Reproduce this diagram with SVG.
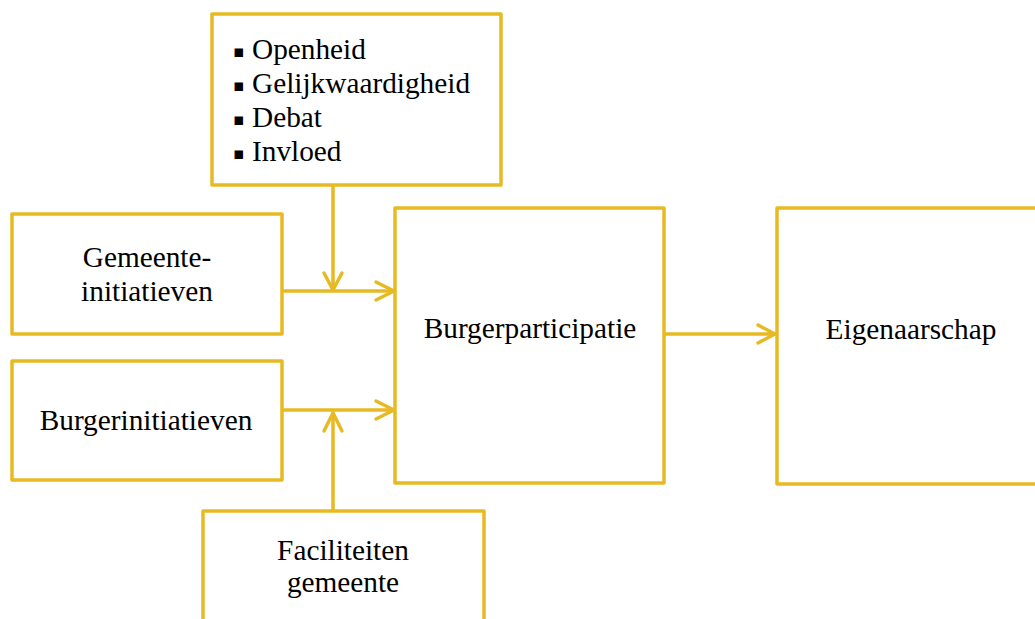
<svg xmlns="http://www.w3.org/2000/svg" width="1035" height="619" viewBox="0 0 1035 619">
<style>
.box{fill:#fff;stroke:#E7BA23;stroke-width:3.5;stroke-linejoin:round}
.ln{fill:none;stroke:#E7BA23;stroke-width:3.5;stroke-linecap:round;stroke-linejoin:round}
text{font-family:"Liberation Serif","Times New Roman",serif;font-size:29.3px;fill:#000}
.c{text-anchor:middle}
.b{font-family:"DejaVu Sans",sans-serif;font-size:17px}
</style>
<rect width="1035" height="619" fill="#fff"/>
<g id="connectors">
<path class="ln" d="M333,185 V290"/>
<path class="ln" d="M324,273 L333,290 L342,273"/>
<path class="ln" d="M282,291 H394"/>
<path class="ln" d="M376,282 L394,291 L376,300"/>
<path class="ln" d="M282,410 H394"/>
<path class="ln" d="M376,401 L394,410 L376,419"/>
<path class="ln" d="M333,511 V413"/>
<path class="ln" d="M324,431 L333,413 L342,431"/>
<path class="ln" d="M664,334 H775"/>
<path class="ln" d="M758,325 L775,334 L758,343"/>
</g>
<g id="node-waarden">
<rect class="box" x="212" y="14" width="289" height="171"/>
<text class="b" x="233" y="57">▪</text>
<text class="b" x="233" y="91">▪</text>
<text class="b" x="233" y="125">▪</text>
<text class="b" x="233" y="159">▪</text>
<text x="252" y="59">Openheid</text>
<text x="252" y="93">Gelijkwaardigheid</text>
<text x="252" y="127">Debat</text>
<text x="252" y="161">Invloed</text>
</g>
<g id="node-gemeente">
<rect class="box" x="12" y="214" width="270" height="120"/>
<text class="c" x="147" y="267">Gemeente-</text>
<text class="c" x="147" y="301">initiatieven</text>
</g>
<g id="node-burgerinit">
<rect class="box" x="12" y="361" width="270" height="119"/>
<text class="c" x="146" y="430">Burgerinitiatieven</text>
</g>
<g id="node-faciliteiten">
<rect class="box" x="203" y="511" width="281" height="130"/>
<text class="c" x="343" y="560">Faciliteiten</text>
<text class="c" x="343" y="592">gemeente</text>
</g>
<g id="node-burgerparticipatie">
<rect class="box" x="395" y="208" width="269" height="275"/>
<text class="c" x="530" y="338">Burgerparticipatie</text>
</g>
<g id="node-eigenaarschap">
<rect class="box" x="777" y="208" width="270" height="276"/>
<text class="c" x="911" y="339">Eigenaarschap</text>
</g>
</svg>
